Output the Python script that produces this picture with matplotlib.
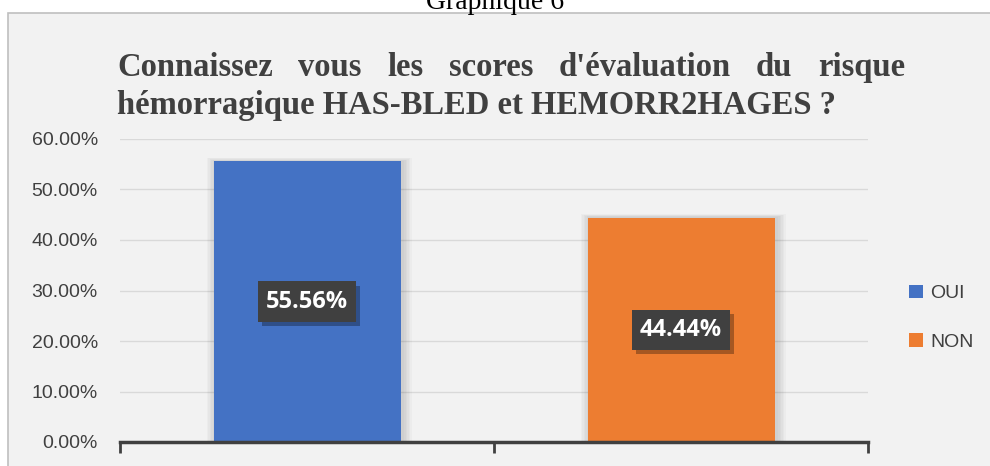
import numpy as np
import matplotlib
matplotlib.use('Agg')
import matplotlib.pyplot as plt
from matplotlib.patches import Rectangle
from matplotlib import patheffects

categories = ['OUI', 'NON']
values = [0.5556, 0.4444]
colors = ['#4472C4', '#ED7D31']
yticks = [0.0, 0.1, 0.2, 0.3, 0.4, 0.5, 0.6]
title_line1 = ["Connaissez", "vous", "les", "scores", "d'évaluation", "du", "risque"]
title_line2 = "hémorragique HAS-BLED et HEMORR2HAGES ?"

W, H = 990, 466
fig = plt.figure(figsize=(W / 100, H / 100), dpi=100)
fig.patch.set_facecolor('white')

# chart box (gray, right/bottom edges off canvas)
fig.patches.append(Rectangle((8 / W, -0.1), 1.2, (H - 13) / H + 0.1,
                             transform=fig.transFigure, facecolor='#F2F2F2',
                             edgecolor='#BFBFBF', lw=1.2, zorder=-10))

fig.text(495 / W, (H - 9) / H, 'Graphique 6', ha='center', va='baseline',
         fontsize=20, family='Liberation Serif')

ax = fig.add_axes([120 / W, 24 / H, 748 / W, 303 / H])
ax.set_facecolor('none')
x = np.arange(len(categories))

# soft shadow behind bars
for i, v in enumerate(values):
    for k in range(6):
        d = 0.004 * (k + 1)
        ax.add_patch(Rectangle((x[i] - 0.25 - d + 0.006, 0), 0.5 + 2 * d, v + d * 0.3,
                               facecolor='black', alpha=0.025, lw=0, zorder=1))
bars = ax.bar(x, values, width=0.5, color=colors, zorder=2)

ax.set_ylim(0, 0.6)
ax.set_xlim(-0.5, 1.5)
ax.set_yticks(yticks)
ax.set_yticklabels(['%.2f%%' % (t * 100) for t in yticks], fontsize=14,
                   family='Liberation Sans', color='#404040')
ax.yaxis.grid(True, color='#D9D9D9', lw=1)
ax.set_axisbelow(True)
ax.tick_params(axis='y', length=0, pad=16)
ax.set_xticks([])
ax.set_xticks([-0.5, 0.5, 1.5], minor=True)
ax.tick_params(axis='x', which='minor', length=8, width=2, color='#404040', direction='out')
for s in ['top', 'right', 'left']:
    ax.spines[s].set_visible(False)
ax.spines['bottom'].set_color('#404040')
ax.spines['bottom'].set_linewidth(2.5)

# data labels
for i, v in enumerate(values):
    t = ax.text(x[i], v / 2, '%.2f%%' % (v * 100), ha='center', va='center',
                fontsize=17, fontweight='bold', family='Open Sans', color='white', zorder=4,
                bbox=dict(boxstyle='square,pad=0.35', fc='#404040', ec='none'))
    t.get_bbox_patch().set_path_effects([
        patheffects.SimplePatchShadow(offset=(3, -3), shadow_rgbFace='black', alpha=0.3),
        patheffects.Normal()])

# legend
leg = ax.legend(bars, categories, loc='center left', bbox_to_anchor=(772 / 748, 0.41),
                frameon=False, handlelength=0.7, handleheight=0.7, labelspacing=1.6,
                handletextpad=0.35, prop={'family': 'Liberation Sans', 'size': 14})
for t in leg.get_texts():
    t.set_color('#404040')

# justified title
tsize = 23.5
fig.canvas.draw()
r = fig.canvas.get_renderer()
x0, x1 = 117, 905
widths = []
tmp = []
for w in title_line1:
    t = fig.text(0, 0, w, fontsize=tsize, fontweight='bold', family='Liberation Serif')
    widths.append(t.get_window_extent(r).width)
    tmp.append(t)
gap = (x1 - x0 - sum(widths)) / (len(title_line1) - 1)
pos = x0
for t, wd in zip(tmp, widths):
    t.set_position((pos / W, (H - 76) / H))
    t.set_color('#404040')
    pos += wd + gap
fig.text(x0 / W, (H - 114) / H, title_line2, fontsize=tsize, fontweight='bold',
         family='Liberation Serif', color='#404040')

fig.savefig('out.png', dpi=100)
